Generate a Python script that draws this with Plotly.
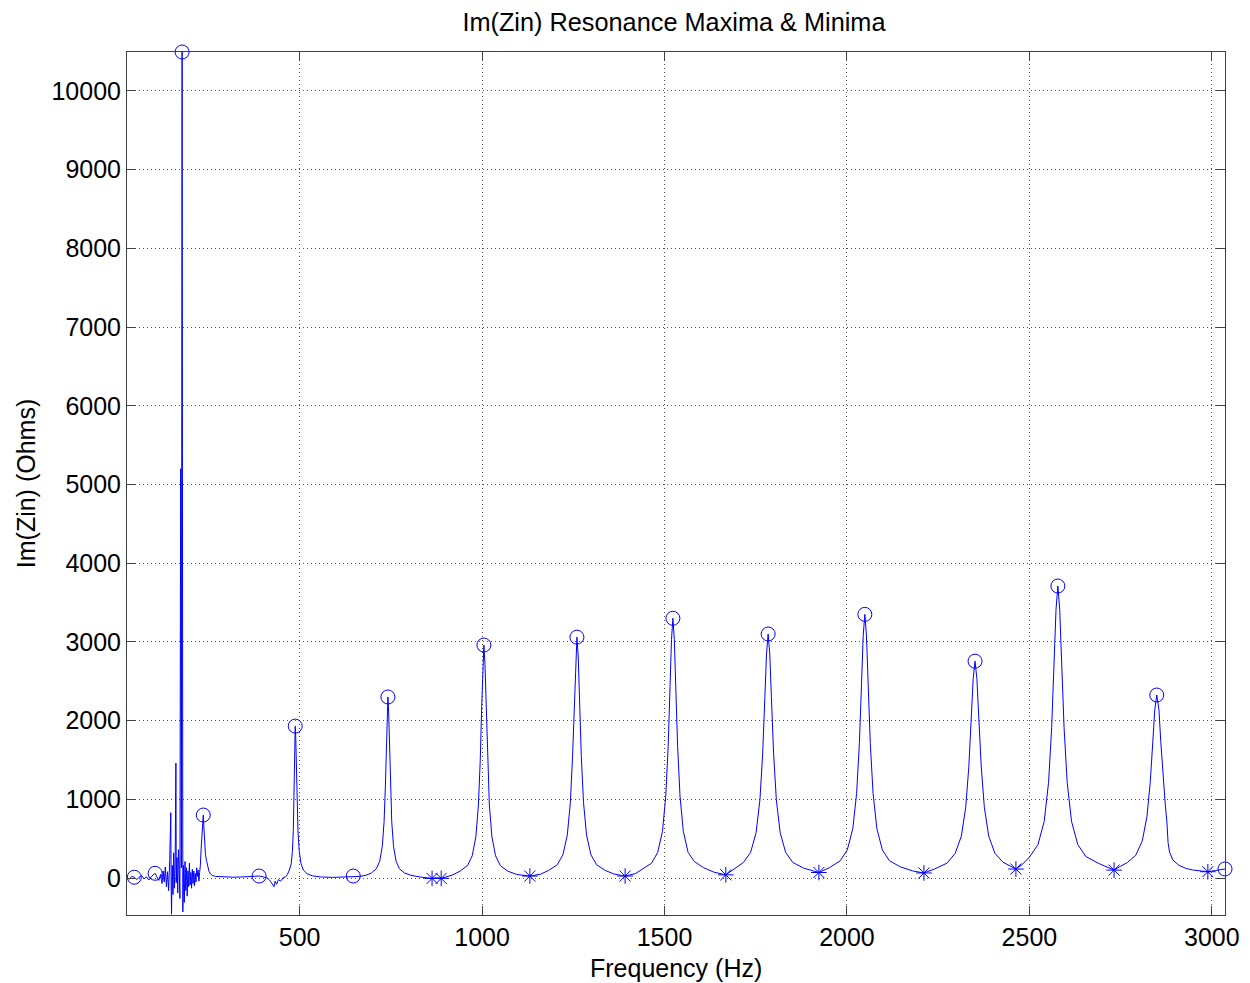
import plotly.graph_objects as go

# -----------------------------
# DATA
# -----------------------------
freq_hz = [
    # low frequency noise + big spike
    27, 33, 40, 47, 54, 60, 67, 74, 80, 87, 94, 99, 104, 109, 114, 119, 123, 126, 129, 132,
    135, 138, 141, 144, 147, 148, 149, 151, 153, 155, 157, 159, 161, 162, 164, 166, 168, 170,
    172, 174, 175, 176, 178, 179, 180, 182, 184, 186, 188, 190, 192, 194, 196, 198, 200, 202,
    204, 206, 208, 210, 212, 214, 216, 218, 220, 222, 224, 226, 228, 230, 232, 234, 236, 238,
    240, 242, 245, 248, 252, 256, 262, 270, 290, 320, 350, 375, 389, 400, 412, 420, 426, 430,
    433, 437, 442, 448, 455, 462,
    # 488 Hz
    466, 472, 477, 480.3, 482.8, 484.5, 485.9, 486.9, 488, 489.5, 491, 493, 495.5, 499, 504,
    510.5, 520.5, 535, 560, 590, 620, 647, 665, 682,
    # 742 Hz
    696.5, 710.5, 719.6, 726.6, 731.5, 735, 737.8, 739.9, 742, 744.1, 746.2, 749, 752.5,
    757.4, 764.4, 773.5, 787.5, 805, 830, 863, 876, 888, 905, 920,
    # 1005 Hz
    940, 960, 973, 983, 990, 995, 999, 1002, 1005, 1008, 1011, 1015, 1020, 1027, 1037, 1050,
    1070, 1095, 1131, 1160,
    # 1260 Hz
    1182, 1206, 1221.6, 1233.6, 1242, 1248, 1252.8, 1256.4, 1260, 1263.6, 1267.2, 1272, 1278,
    1286.4, 1298.4, 1314, 1338, 1362, 1392, 1420,
    # 1523 Hz
    1438.5, 1464.5, 1481.4, 1494.4, 1503.5, 1510, 1515.2, 1519.1, 1523, 1526.9, 1530.8, 1536,
    1542.5, 1551.6, 1564.6, 1581.5, 1607.5, 1635, 1668, 1686.5,
    # 1784 Hz
    1716.5, 1736, 1751, 1761.5, 1769, 1775, 1779.5, 1784, 1788.5, 1793, 1799, 1806.5, 1817,
    1832, 1851.5, 1881.5, 1923, 1951.5,
    # 2049 Hz
    1981.5, 2001, 2016, 2026.5, 2034, 2040, 2044.5, 2049, 2053.5, 2058, 2064, 2071.5, 2082,
    2097, 2116.5, 2146.5, 2180, 2211, 2240.5,
    # 2351 Hz
    2274.5, 2296.6, 2313.6, 2325.5, 2334, 2340.8, 2345.9, 2351, 2356.1, 2361.2, 2368, 2376.5,
    2388.4, 2405.4, 2427.5, 2463, 2480,
    # 2578 Hz
    2501.5, 2523.6, 2540.6, 2552.5, 2561, 2567.8, 2572.9, 2578, 2583.1, 2588.2, 2595, 2603.5,
    2615.4, 2632.4, 2654.5, 2688.5, 2732, 2750,
    # 2849 Hz
    2768, 2791.4, 2809.4, 2822, 2831, 2838.2, 2843.6, 2849, 2855, 2860, 2867, 2872, 2877,
    2880, 2884, 2893, 2910, 2930, 2950, 2989, 3010, 3036,
]
im_zin = [
    5, -15, 20, 10, -20, 10, 30, -10, 15, -25, 20, 40, 60, 15, -30, 45, -70, 90, -50, 140,
    -110, 80, -160, 220, 830, -90, -460, 160, -210, 320, -130, 190, 1460, -60, 260, -190, 360, 110,
    -260, 5200, 300, 130, 10495, -110, -430, 160, -310, 210, -160, 130, -230, 90, -110, 190, -90, 70,
    -130, 110, -70, 90, -100, 60, -50, 130, 20, 100, -40, 70, 160, 360, 560, 700, 800, 620,
    430, 300, 220, 140, 80, 50, 30, 20, 15, 10, 15, 20, 25, 15, 0, -40, -80, -110,
    -40, -80, -20, -40, 5, 15,
    40, 100, 181, 338, 601, 970, 1421, 1771, 1930, 1771, 1421, 970, 601, 338, 181,
    100, 54, 28, 12, 8, 15, 25, 20, 35,
    63, 118, 214, 402, 715, 1155, 1693, 2110, 2300, 2110, 1693, 1155, 715,
    402, 214, 118, 63, 35, 12, -5, 3, -5, 15, 40,
    88, 158, 282, 523, 925, 1490, 2181, 2716, 2960, 2716, 2181, 1490, 925, 523, 282, 158,
    88, 45, 25, 48,
    95, 168, 295, 544, 960, 1543, 2256, 2808, 3060, 2808, 2256, 1543, 960,
    544, 295, 168, 95, 50, 25, 55,
    110, 188, 326, 593, 1041, 1668, 2435, 3029, 3300, 3029, 2435, 1668,
    1041, 593, 326, 210, 130, 75, 40, 100,
    198, 326, 576, 993, 1578, 2293, 2847, 3100, 2847, 2293, 1578, 993, 576,
    326, 198, 125, 70, 130,
    219, 357, 627, 1077, 1708, 2480, 3077, 3350, 3077, 2480, 1708, 1077, 627,
    357, 219, 141, 90, 64, 115,
    190, 314, 533, 900, 1415, 2045, 2532, 2755, 2532, 2045, 1415, 900,
    533, 314, 201, 114, 170,
    274, 426, 721, 1215, 1908, 2755, 3411, 3710, 3411, 2755, 1908, 1215,
    721, 426, 274, 188, 100, 150,
    195, 289, 472, 778, 1208, 1733, 2140, 2325, 2140, 1733, 1230, 950, 700,
    450, 330, 230, 160, 120, 100, 80, 95, 115,
]

max_freq = [47, 104, 178, 236, 389, 488, 647, 742, 1005, 1260, 1523, 1784, 2049, 2351, 2578, 2849, 3036]
max_val = [10, 60, 10495, 800, 25, 1930, 25, 2300, 2960, 3060, 3300, 3100, 3350, 2755, 3710, 2325, 115]

min_freq = [863, 888, 1131, 1392, 1668, 1923, 2211, 2463, 2732, 2989]
min_val = [-5, -5, 25, 25, 40, 70, 64, 114, 100, 80]

x_ticks = [500, 1000, 1500, 2000, 2500, 3000]
y_ticks = [0, 1000, 2000, 3000, 4000, 5000, 6000, 7000, 8000, 9000, 10000]

BLUE = "rgb(0,0,255)"
FONT = "Liberation Sans, Arial, sans-serif"

fig = go.Figure()

fig.add_trace(go.Scatter(x=freq_hz, y=im_zin, mode="lines",
                         line=dict(color=BLUE, width=1), showlegend=False))

fig.add_trace(go.Scatter(x=max_freq, y=max_val, mode="markers", cliponaxis=False,
                         marker=dict(symbol="circle-open", size=14, color=BLUE,
                                     line=dict(width=1, color=BLUE)),
                         showlegend=False))

fig.add_trace(go.Scatter(x=min_freq, y=min_val, mode="markers", cliponaxis=False,
                         marker=dict(symbol="asterisk-open", size=13, color=BLUE,
                                     line=dict(width=1, color=BLUE)),
                         showlegend=False))

axis_common = dict(
    showline=True, linecolor="#404040", linewidth=1, mirror="ticks",
    ticks="inside", ticklen=9, tickcolor="#404040", tickwidth=1,
    showgrid=True, gridcolor="#505050", gridwidth=1, griddash="1px,3px",
    zeroline=False, automargin=False,
    tickfont=dict(family=FONT, size=25, color="black"),
)

# the page body adds an 8px margin; the figure fills the rest of the window
fig.update_layout(
    width=1242, height=975,
    paper_bgcolor="white", plot_bgcolor="white",
    margin=dict(l=119, r=25, t=44, b=68),
    title=dict(text="Im(Zin) Resonance Maxima & Minima", x=0.5362, xanchor="center",
               y=0.985, yanchor="middle", font=dict(family=FONT, size=25.3, color="black")),
    xaxis=dict(range=[27, 3036], tickvals=x_ticks,
               ticktext=[str(v) for v in x_ticks], **axis_common),
    yaxis=dict(range=[-470, 10495], tickvals=y_ticks,
               ticktext=[str(v) for v in y_ticks],
               title=dict(text="Im(Zin) (Ohms)", standoff=8,
                          font=dict(family=FONT, size=25, color="black")),
               **axis_common),
)

# x-axis title placed below the tick labels
fig.add_annotation(text="Frequency (Hz)", xref="paper", yref="paper", x=0.5, y=0,
                   xanchor="center", yanchor="middle", yshift=-53, showarrow=False,
                   font=dict(family=FONT, size=25, color="black"))

fig.write_html("out.html")
